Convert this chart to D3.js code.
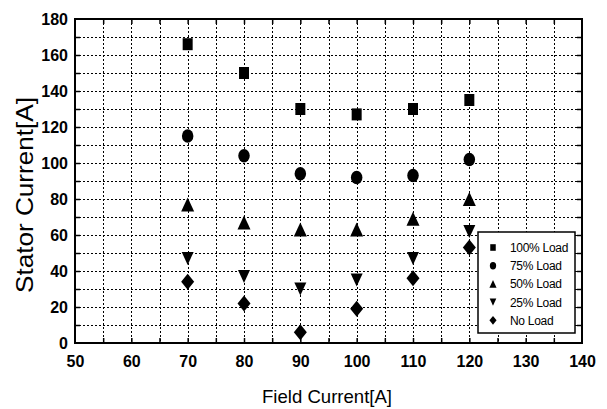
<!DOCTYPE html>
<meta charset="utf-8">
<html>
<style>
  body { margin: 0; background: #fff; }
  text { font-family: "Liberation Sans", Arial, sans-serif; fill: #000; }
</style>
<body>
<script src="https://d3js.org/d3.v7.min.js"></script>
<script>
// field current on x, one stator current series per load level
var fieldCurrent = [70, 80, 90, 100, 110, 120];
var load100 = [166, 150, 130, 127, 130, 135];
var load75  = [115, 104, 94, 92, 93, 102];
var load50  = [77, 67, 63, 63, 69, 80];
var load25  = [47, 37, 30, 35, 47, 62];
var noLoad  = [34, 22, 6, 19, 36, 53];

var xTicks = [50, 60, 70, 80, 90, 100, 110, 120, 130, 140];
var yTicks = [0, 20, 40, 60, 80, 100, 120, 140, 160, 180];

var seriesNames = ["100% Load", "75% Load", "50% Load", "25% Load", "No Load"];
var seriesValues = [load100, load75, load50, load25, noLoad];
var seriesShapes = ["square", "circle", "up", "down", "diamond"];

var W = 607, H = 409;
var svg = d3.select("body").append("svg").attr("width", W).attr("height", H);

var x = d3.scaleLinear().domain([50, 140]).range([75, 582]);
var y = d3.scaleLinear().domain([0, 180]).range([343, 19]);

// marker path, w/h in pixels
function marker(kind, w, h) {
  var a = w / 2, b = h / 2;
  if (kind == "square") return "M" + (-a) + "," + (-b) + "H" + a + "V" + b + "H" + (-a) + "Z";
  if (kind == "up") return "M0," + (-b) + "L" + a + "," + b + "L" + (-a) + "," + b + "Z";
  if (kind == "down") return "M0," + b + "L" + a + "," + (-b) + "L" + (-a) + "," + (-b) + "Z";
  if (kind == "diamond") return "M0," + (-b) + "L" + a + ",0L0," + b + "L" + (-a) + ",0Z";
  // ellipse
  return "M" + (-a) + ",0A" + a + "," + b + " 0 1,0 " + a + ",0A" + a + "," + b + " 0 1,0 " + (-a) + ",0Z";
}
var sizes = {square: [10, 12], circle: [11.5, 13.5], up: [13, 14], down: [12, 13], diamond: [13, 16]};

// dotted grid
var grid = svg.append("g").attr("stroke", "#000").attr("stroke-width", 1)
  .attr("stroke-dasharray", "2,2").attr("shape-rendering", "crispEdges");
grid.selectAll("line.v").data(d3.range(55, 140, 5)).enter().append("line")
  .attr("x1", function (d) { return Math.round(x(d)) + 0.5; }).attr("x2", function (d) { return Math.round(x(d)) + 0.5; })
  .attr("y1", y(180)).attr("y2", y(0));
grid.selectAll("line.h").data(d3.range(10, 180, 10)).enter().append("line")
  .attr("x1", x(50)).attr("x2", x(140))
  .attr("y1", function (d) { return Math.round(y(d)) + 0.5; }).attr("y2", function (d) { return Math.round(y(d)) + 0.5; });

// inward ticks on all four sides
var tickG = svg.append("g");
tickG.append("g").attr("transform", "translate(0," + y(0) + ")")
  .call(d3.axisBottom(x).tickValues(d3.range(55, 140, 5)).tickSize(-5).tickFormat(""));
tickG.append("g").attr("transform", "translate(0," + y(180) + ")")
  .call(d3.axisTop(x).tickValues(d3.range(55, 140, 5)).tickSize(-5).tickFormat(""));
tickG.append("g").attr("transform", "translate(" + x(50) + ",0)")
  .call(d3.axisLeft(y).tickValues(d3.range(10, 180, 10)).tickSize(-5).tickFormat(""));
tickG.append("g").attr("transform", "translate(" + x(140) + ",0)")
  .call(d3.axisRight(y).tickValues(d3.range(10, 180, 10)).tickSize(-5).tickFormat(""));
tickG.selectAll(".domain").remove();
tickG.selectAll("line").attr("stroke", "#000").attr("stroke-width", 1.5);

// data markers
seriesValues.forEach(function (vals, i) {
  var k = seriesShapes[i];
  svg.append("g").selectAll("path").data(vals).enter().append("path")
    .attr("d", marker(k, sizes[k][0], sizes[k][1]))
    .attr("transform", function (d, j) { return "translate(" + x(fieldCurrent[j]) + "," + y(d) + ")"; })
    .attr("fill", "#000");
});

// frame
svg.append("rect").attr("x", x(50)).attr("y", y(180))
  .attr("width", x(140) - x(50)).attr("height", y(0) - y(180))
  .attr("fill", "none").attr("stroke", "#000").attr("stroke-width", 2);

// tick labels
var xa = svg.append("g").attr("transform", "translate(0," + y(0) + ")")
  .call(d3.axisBottom(x).tickValues(xTicks).tickSize(0).tickPadding(13));
var ya = svg.append("g").attr("transform", "translate(" + x(50) + ",0)")
  .call(d3.axisLeft(y).tickValues(yTicks).tickSize(0).tickPadding(7));
[xa, ya].forEach(function (a) {
  a.select(".domain").remove();
  a.selectAll("text").attr("font-family", "'Liberation Sans', Arial, sans-serif")
    .attr("font-size", 16).attr("font-weight", "bold").attr("fill", "#000");
});

// axis titles
svg.append("text").attr("x", 327).attr("y", 403).attr("text-anchor", "middle")
  .attr("font-size", 19).attr("textLength", 130).attr("lengthAdjust", "spacingAndGlyphs")
  .text("Field Current[A]");
svg.append("text").attr("transform", "translate(33,195) rotate(-90)").attr("text-anchor", "middle")
  .attr("font-size", 24).attr("textLength", 196).attr("lengthAdjust", "spacingAndGlyphs")
  .text("Stator Current[A]");

// legend
var lg = svg.append("g").attr("transform", "translate(478,232)");
lg.append("rect").attr("width", 97).attr("height", 101)
  .attr("fill", "#fff").attr("stroke", "#000").attr("stroke-width", 1.5);
seriesNames.forEach(function (name, i) {
  var k = seriesShapes[i];
  var row = lg.append("g").attr("transform", "translate(0," + (15.5 + i * 18.2) + ")");
  row.append("path").attr("d", marker(k, sizes[k][0] * 0.55, sizes[k][1] * 0.55))
    .attr("transform", "translate(15,0)").attr("fill", "#000");
  row.append("text").attr("x", 32).attr("y", 4.5).attr("font-size", 12)
    .attr("letter-spacing", -0.3).text(name);
});
</script>
</body>
</html>
